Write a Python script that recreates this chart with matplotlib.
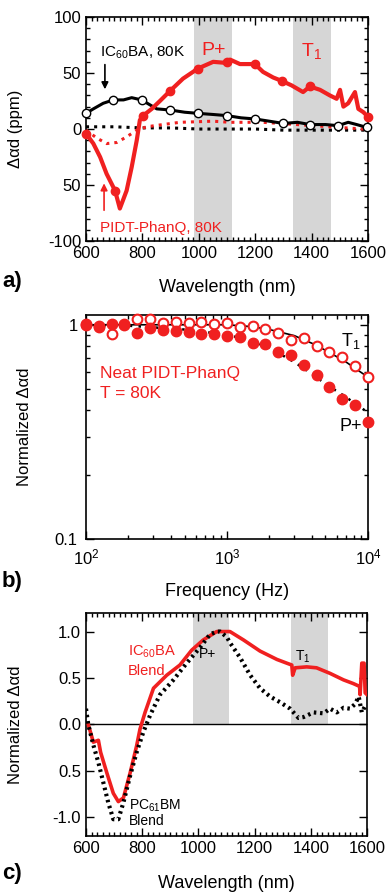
import matplotlib

matplotlib.use("Agg")
import matplotlib.pyplot as plt
from matplotlib.ticker import MultipleLocator, LogLocator, NullFormatter

RED = "#f02020"
SHADE = "#d6d6d6"

# ---- panel a: delta alpha d spectra (ppm) ----
a_red_wl = [600, 626, 650, 673, 703, 720, 744, 762, 780, 791, 803, 833, 862, 898, 944, 997, 1051, 1099,
            1111, 1146, 1199, 1228, 1264, 1294, 1329, 1370, 1394, 1430, 1465, 1489, 1501, 1513, 1530,
            1554, 1566, 1584, 1600]
a_red_val = [-4, -13, -25, -40, -55, -71, -55, -34, -10, 8, 12, 18, 25, 34, 45, 54, 60, 59,
             62, 58, 58, 51, 46, 43, 39, 33, 38, 35, 30, 27, 35, 20, 23,
             33, 18, 15, 11]
a_red_mk_wl = [600, 703, 803, 898, 997, 1099, 1199, 1294, 1394, 1600]
a_red_mk_val = [-4, -55, 12, 34, 54, 60, 58, 43, 38, 11]

a_blk_wl = [600, 626, 661, 697, 733, 762, 797, 851, 898, 950, 997, 1050, 1099, 1150, 1199, 1250,
            1300, 1350, 1394, 1450, 1494, 1530, 1560, 1595]
a_blk_val = [14, 18, 23, 26, 26, 28, 26, 18, 17, 15, 14, 13, 12, 10, 9, 7,
             5, 6, 4, 4, 3, 6, 4, 1.5]
a_blk_mk_wl = [600, 697, 797, 898, 997, 1099, 1199, 1300, 1394, 1494, 1595]
a_blk_mk_val = [14, 26, 26, 17, 14, 12, 9, 5, 4, 3, 1.5]

a_rdot_wl = [600, 638, 673, 709, 744, 780, 815, 873, 933, 1050, 1111, 1228, 1347, 1465, 1583, 1600]
a_rdot_val = [-1, -8, -13, -12, -7, -1, 2, 4, 6, 7, 6, 6, 4, 2, 0, 0]

a_bdot_wl = [600, 700, 800, 900, 1000, 1100, 1200, 1300, 1400, 1500, 1600]
a_bdot_val = [2, 2, 1, 1, 0, 0, 0, -1, -1, -1, -1]

# ---- panel b: frequency dependence ----
b_freq = [100, 123.3, 152, 187.4, 231, 284.8, 351.1, 432.9, 533.7, 657.9, 811.1, 1000,
          1233, 1520, 1874, 2310, 2848, 3511, 4329, 5337, 6579, 8111, 10000]
b_pplus = [1.01, 0.98, 1.01, 1.01, 0.92, 0.97, 0.95, 0.94, 0.93, 0.91, 0.905, 0.89,
           0.88, 0.82, 0.815, 0.75, 0.72, 0.65, 0.58, 0.51, 0.45, 0.42, 0.35]
b_t1 = [1.0, 0.99, 0.905, 1.0, 1.06, 1.06, 1.02, 1.035, 1.02, 1.03, 1.01, 1.015,
        0.98, 0.99, 0.955, 0.92, 0.85, 0.865, 0.80, 0.75, 0.71, 0.64, 0.57]
b_fit_freq = [100, 200, 500, 1000, 1500, 2000, 3000, 4000, 5000, 6000, 7000, 8000, 10000]
b_fit_t1 = [1.0, 1.0, 1.0, 1.0, 0.98, 0.95, 0.89, 0.82, 0.76, 0.71, 0.67, 0.63, 0.57]
b_fit_pplus = [1.0, 0.99, 0.95, 0.90, 0.84, 0.78, 0.67, 0.59, 0.53, 0.49, 0.46, 0.43, 0.39]

# ---- panel c: normalized blend spectra ----
c_red_wl = [608, 626, 644, 652, 674, 697, 715, 733, 757, 780, 792, 810, 840, 887, 934, 976, 1017,
            1065, 1077, 1112, 1160, 1219, 1279, 1314, 1332, 1335, 1344, 1385, 1420, 1468, 1516,
            1551, 1573, 1575, 1581, 1589, 1593, 1600]
c_red_val = [0.0, -0.19, -0.17, -0.30, -0.52, -0.74, -0.83, -0.79, -0.52, -0.23, -0.05, 0.13, 0.39,
             0.53, 0.64, 0.80, 0.91, 1.0, 1.0, 1.0, 0.91, 0.79, 0.70, 0.66, 0.64, 0.53, 0.61, 0.62,
             0.61, 0.55, 0.48, 0.44, 0.41, 0.32, 0.66, 0.66, 0.34, 0.32]
c_blk_wl = [600, 608, 626, 644, 662, 679, 697, 715, 733, 757, 780, 804, 828, 863, 911, 958, 1006,
            1041, 1065, 1077, 1101, 1112, 1148, 1184, 1219, 1255, 1290, 1326, 1356, 1374, 1409,
            1445, 1468, 1492, 1516, 1539, 1557, 1570, 1581, 1593, 1600]
c_blk_val = [0.17, 0.0, -0.22, -0.41, -0.63, -0.84, -1.02, -1.02, -0.84, -0.55, -0.30, -0.08, 0.10,
             0.32, 0.48, 0.66, 0.83, 0.97, 1.0, 1.0, 0.94, 0.88, 0.72, 0.53, 0.39, 0.30, 0.24,
             0.17, 0.07, 0.08, 0.13, 0.12, 0.17, 0.13, 0.18, 0.17, 0.22, 0.30, 0.13, 0.20, 0.18]

SHADE_PPLUS = (982, 1117)
SHADE_T1 = (1333, 1468)


def style_axis(ax):
    ax.tick_params(which="both", direction="in", top=True, right=True, labelsize=12, width=1)
    ax.tick_params(which="major", length=6)
    ax.tick_params(which="minor", length=3)
    for sp in ax.spines.values():
        sp.set_linewidth(1.2)


def main() -> None:
    plt.rcParams["font.family"] = ["Liberation Sans", "DejaVu Sans"]
    plt.rcParams["mathtext.default"] = "regular"

    fig = plt.figure(figsize=(3.91, 8.92), dpi=100)
    ax_a = fig.add_axes([0.220, 0.7298, 0.721, 0.2511])
    ax_b = fig.add_axes([0.220, 0.3957, 0.721, 0.2511])
    ax_c = fig.add_axes([0.220, 0.0628, 0.719, 0.2500])

    # panel a
    ax = ax_a
    for lo, hi in (SHADE_PPLUS, SHADE_T1):
        ax.axvspan(lo, hi, color=SHADE, lw=0, zorder=0)
    ax.plot(a_bdot_wl, a_bdot_val, color="black", lw=2.2, ls=":", zorder=2)
    ax.plot(a_rdot_wl, a_rdot_val, color=RED, lw=2.2, ls=":", zorder=2)
    ax.plot(a_blk_wl, a_blk_val, color="black", lw=2.2, zorder=3)
    ax.plot(a_blk_mk_wl, a_blk_mk_val, ls="none", marker="o", ms=6, mfc="white", mec="black",
            mew=1.0, zorder=4, clip_on=False)
    ax.plot(a_red_wl, a_red_val, color=RED, lw=3.0, zorder=5)
    ax.plot(a_red_mk_wl, a_red_mk_val, ls="none", marker="o", ms=6, color=RED, zorder=6, clip_on=False)
    ax.set_xlim(600, 1600)
    ax.set_ylim(-100, 100)
    ax.set_yticks([100, 50, 0, -50, -100])
    ax.set_yticklabels(["100", "50", "0", "50", "-100"])
    ax.xaxis.set_major_locator(MultipleLocator(200))
    ax.xaxis.set_minor_locator(MultipleLocator(20))
    ax.yaxis.set_minor_locator(MultipleLocator(10))
    style_axis(ax)
    ax.set_xlabel("Wavelength (nm)", fontsize=13, labelpad=13)
    ax.set_ylabel("Δαd (ppm)", fontsize=12)
    ax.yaxis.set_label_coords(-0.225, 0.5)
    ax.text(650, 68, "IC$_{60}$BA, 80K", fontsize=11, ha="left", va="center")
    ax.annotate("", xy=(667, 33), xytext=(667, 60),
                arrowprops=dict(arrowstyle="-|>", color="black", lw=1.2, mutation_scale=10))
    ax.text(650, -88, "PIDT-PhanQ, 80K", fontsize=11, color=RED, ha="left", va="center")
    ax.annotate("", xy=(664, -46), xytext=(664, -75),
                arrowprops=dict(arrowstyle="-|>", color=RED, lw=1.2, mutation_scale=10))
    ax.text(1010, 70, "P+", fontsize=14, color=RED, ha="left", va="center")
    ax.text(1362, 70, "T$_1$", fontsize=14, color=RED, ha="left", va="center")

    # panel b
    ax = ax_b
    ax.set_xscale("log")
    ax.set_yscale("log")
    ax.plot(b_fit_freq, b_fit_t1, color="black", lw=1.2, zorder=2)
    ax.plot(b_fit_freq, b_fit_pplus, color="black", lw=1.8, ls=(0, (1, 2.5)), zorder=2)
    ax.plot(b_freq, b_t1, ls="none", marker="o", ms=7, mfc="white", mec=RED, mew=1.5,
            zorder=3, clip_on=False)
    ax.plot(b_freq, b_pplus, ls="none", marker="o", ms=7.5, color=RED, zorder=4, clip_on=False)
    ax.set_xlim(100, 10000)
    ax.set_ylim(0.1, 1.11)
    ax.set_xticks([100, 1000, 10000])
    ax.set_xticklabels(["10$^2$", "10$^3$", "10$^4$"])
    ax.set_yticks([0.1, 1])
    ax.set_yticklabels(["0.1", "1"])
    ax.xaxis.set_minor_locator(LogLocator(base=10, subs=range(2, 10)))
    ax.yaxis.set_minor_locator(LogLocator(base=10, subs=range(2, 10)))
    ax.xaxis.set_minor_formatter(NullFormatter())
    ax.yaxis.set_minor_formatter(NullFormatter())
    style_axis(ax)
    ax.tick_params(axis="x", which="major", pad=6)
    ax.tick_params(axis="y", which="major", pad=6)
    ax.set_xlabel("Frequency (Hz)", fontsize=13, labelpad=11)
    ax.set_ylabel("Normalized Δαd", fontsize=12)
    ax.yaxis.set_label_coords(-0.19, 0.5)
    ax.text(126, 0.595, "Neat PIDT-PhanQ", fontsize=12.5, color=RED, ha="left", va="center")
    ax.text(126, 0.48, "T = 80K", fontsize=12.5, color=RED, ha="left", va="center")
    ax.text(6400, 0.84, "T$_1$", fontsize=13, ha="left", va="center")
    ax.text(6300, 0.335, "P+", fontsize=13, ha="left", va="center")

    # panel c
    ax = ax_c
    for lo, hi in ((980, 1110), (1330, 1462)):
        ax.axvspan(lo, hi, ymin=0.5, ymax=1.0, color=SHADE, lw=0, zorder=0)
    ax.axhline(0, color="black", lw=1.0, zorder=1)
    ax.plot(c_red_wl, c_red_val, color=RED, lw=2.6, zorder=3)
    ax.plot(c_blk_wl, c_blk_val, color="black", lw=3.0, ls=(0, (0.6, 0.9)), zorder=4)
    ax.set_xlim(600, 1600)
    ax.set_ylim(-1.2, 1.2)
    ax.set_yticks([1.0, 0.5, 0.0, -0.5, -1.0])
    ax.set_yticklabels(["1.0", "0.5", "0.0", "0.5", "-1.0"])
    ax.xaxis.set_major_locator(MultipleLocator(200))
    ax.xaxis.set_minor_locator(MultipleLocator(20))
    style_axis(ax)
    ax.set_xlabel("Wavelength (nm)", fontsize=13, labelpad=13.5)
    ax.set_ylabel("Normalized Δαd", fontsize=12)
    ax.yaxis.set_label_coords(-0.225, 0.5)
    ax.text(750, 0.78, "IC$_{60}$BA", fontsize=10.5, color=RED, ha="left", va="center")
    ax.text(750, 0.58, "Blend", fontsize=10.5, color=RED, ha="left", va="center")
    ax.text(1003, 0.76, "P+", fontsize=10, ha="left", va="center")
    ax.text(1345, 0.73, "T$_1$", fontsize=10, ha="left", va="center")
    ax.text(752, -0.88, "PC$_{61}$BM", fontsize=10, ha="left", va="center")
    ax.text(752, -1.04, "Blend", fontsize=10, ha="left", va="center")

    for y, lab in ((1 - 282 / 892, "a)"), (1 - 582 / 892, "b)"), (1 - 874 / 892, "c)")):
        fig.text(0.005, y, lab, fontsize=16, fontweight="bold", ha="left", va="center")

    fig.savefig("out.png", dpi=100)
    plt.close(fig)


if __name__ == "__main__":
    main()
